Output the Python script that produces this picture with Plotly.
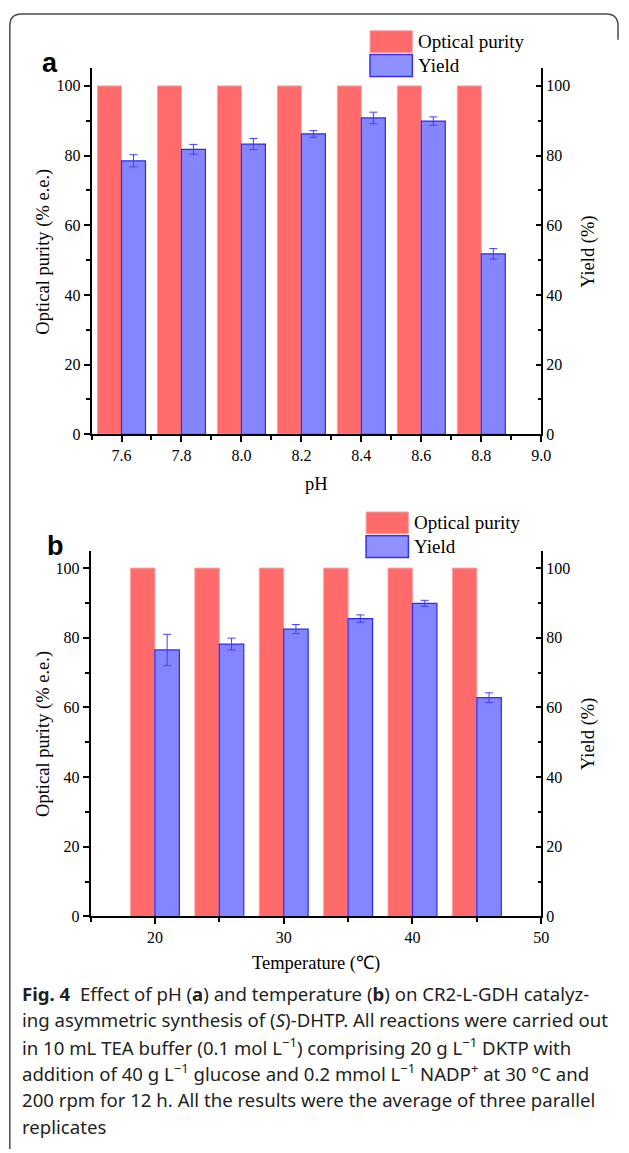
import plotly.graph_objects as go

W, H = 629, 1153

# ---- data ----
ph = [7.6, 7.8, 8.0, 8.2, 8.4, 8.6, 8.8]
ph_purity = [100, 100, 100, 100, 100, 100, 100]
ph_yield = [78.5, 81.8, 83.3, 86.2, 90.8, 89.9, 51.8]
ph_yield_err = [1.75, 1.4, 1.6, 0.95, 1.65, 1.2, 1.5]

temp = [20, 25, 30, 35, 40, 45]
temp_purity = [100, 100, 100, 100, 100, 100]
temp_yield = [76.5, 78.2, 82.5, 85.5, 89.9, 62.8]
temp_yield_err = [4.5, 1.7, 1.3, 1.05, 0.85, 1.4]

series_names = ["Optical purity", "Yield"]
panel_labels = ["a", "b"]
x_titles = ["pH", "Temperature (\u2103)"]
y_left_title = "Optical purity (% e.e.)"
y_right_title = "Yield (%)"

caption_lines = [
    "<b>Fig. 4</b>  Effect of pH (<b>a</b>) and temperature (<b>b</b>) on CR2-L-GDH catalyz-",
    "ing asymmetric synthesis of (<i>S</i>)-DHTP. All reactions were carried out",
    "in 10 mL TEA buffer (0.1 mol L<sup>\u22121</sup>) comprising 20 g L<sup>\u22121</sup> DKTP with",
    "addition of 40 g L<sup>\u22121</sup> glucose and 0.2 mmol L<sup>\u22121</sup> NADP<sup>+</sup> at 30 \u00b0C and",
    "200 rpm for 12 h. All the results were the average of three parallel",
    "replicates",
]

RED = "#FF6B6B"
RED_EDGE = "#FFA0A0"
BLUE = "#8585FF"
BLUE_EDGE = "#2B2BFF"
SERIF = "Liberation Serif"

def px(x):
    return x / W

def py(y):
    return 1 - y / H

fig = go.Figure()

# Panel a bars
fig.add_trace(go.Bar(x=ph, y=ph_purity, width=0.08, offset=-0.08, name=series_names[0],
                     marker=dict(color=RED, line=dict(color=RED_EDGE, width=1)),
                     xaxis="x", yaxis="y", showlegend=False))
fig.add_trace(go.Bar(x=ph, y=ph_yield, width=0.08, offset=0.0, name=series_names[1],
                     marker=dict(color=BLUE, line=dict(color=BLUE_EDGE, width=1.2)),
                     error_y=dict(type="data", array=ph_yield_err, color="#3F3FFF", thickness=1, width=4),
                     xaxis="x", yaxis="y2", showlegend=False))
# Panel b bars
fig.add_trace(go.Bar(x=temp, y=temp_purity, width=1.9, offset=-1.9, name=series_names[0],
                     marker=dict(color=RED, line=dict(color=RED_EDGE, width=1)),
                     xaxis="x2", yaxis="y3", showlegend=False))
fig.add_trace(go.Bar(x=temp, y=temp_yield, width=1.9, offset=0.0, name=series_names[1],
                     marker=dict(color=BLUE, line=dict(color=BLUE_EDGE, width=1.2)),
                     error_y=dict(type="data", array=temp_yield_err, color="#3F3FFF", thickness=1, width=4),
                     xaxis="x2", yaxis="y4", showlegend=False))

tickfont = dict(family=SERIF, size=16, color="black")
titlefont = dict(family=SERIF, size=18.5, color="black")

def xax(domain, rng, dtick, tick0, minor_dtick, fmt, anchor):
    return dict(domain=domain, range=rng, dtick=dtick, tick0=tick0, tickformat=fmt,
                showline=True, linecolor="black", linewidth=1.5, mirror=False,
                ticks="outside", ticklen=6, tickwidth=1.5, tickcolor="black",
                minor=dict(dtick=minor_dtick, tick0=tick0, ticks="outside", ticklen=4,
                           tickwidth=1.5, tickcolor="black"),
                showgrid=False, zeroline=False, tickfont=tickfont, anchor=anchor,
                fixedrange=True)

def yax(domain, anchor, side, ticks, overlaying=None):
    d = dict(domain=domain, range=[0, 105], dtick=20, tick0=0,
             showline=True, linecolor="black", linewidth=1.5,
             ticks=ticks, ticklen=6, tickwidth=1.5, tickcolor="black",
             minor=dict(dtick=10, ticks=ticks, ticklen=4, tickwidth=1.5, tickcolor="black"),
             showgrid=False, zeroline=False, tickfont=tickfont, anchor=anchor, side=side,
             fixedrange=True)
    if overlaying:
        d["overlaying"] = overlaying
    return d

xa_dom = [px(93), px(550)]
xb_dom = [px(92), px(550)]
ya_dom = [py(437.7), py(69)]
yb_dom = [py(923.7), py(555)]

fig.update_layout(
    width=W, height=H,
    margin=dict(l=0, r=0, t=0, b=0),
    paper_bgcolor="white", plot_bgcolor="rgba(0,0,0,0)",
    barmode="overlay",
    showlegend=False,
    xaxis=xax(xa_dom, [7.5, 9.0], 0.2, 7.6, 0.1, ".1f", "y"),
    yaxis=yax(ya_dom, "x", "left", "outside"),
    yaxis2=yax(ya_dom, "x", "right", "inside", overlaying="y"),
    xaxis2=xax(xb_dom, [15, 50], 10, 0, 5, "d", "y3"),
    yaxis3=yax(yb_dom, "x2", "left", "outside"),
    yaxis4=yax(yb_dom, "x2", "right", "inside", overlaying="y3"),
)

ann = []
shapes = []

# frame (rounded top-left and top-right corners)
r = 12
shapes.append(dict(type="path", xref="paper", yref="paper",
                   path=(f"M {px(10)},{py(H+5)} L {px(10)},{py(14+r)} "
                         f"Q {px(10)},{py(14)} {px(10+r)},{py(14)} "
                         f"L {px(628-r)},{py(14)} Q {px(628)},{py(14)} {px(628)},{py(14+r)} "
                         f"L {px(628)},{py(40)}"),
                   line=dict(color="#4a4a4a", width=1.5)))

# axis titles and panel labels
panels = [
    dict(label_xy=(51, 63), legend_y=(31, 55), legend_x=376, xt_y=488, yc=(69 + 437.7) / 2),
    dict(label_xy=(56, 550), legend_y=(516, 540), legend_x=372, xt_y=971, yc=(555 + 923.7) / 2),
]
for i, p in enumerate(panels):
    ann.append(dict(text=f"<b>{panel_labels[i]}</b>", x=px(p["label_xy"][0]), y=py(p["label_xy"][1]),
                    xref="paper", yref="paper", showarrow=False, xanchor="center", yanchor="middle",
                    font=dict(family="Liberation Sans", size=27, color="black")))
    ann.append(dict(text=x_titles[i], x=px(321.5), y=py(p["xt_y"]), xref="paper", yref="paper",
                    showarrow=False, xanchor="center", yanchor="middle", font=titlefont))
    ann.append(dict(text=y_left_title, x=px(44), y=py(p["yc"]), xref="paper", yref="paper",
                    showarrow=False, xanchor="center", yanchor="middle", textangle=-90, font=titlefont))
    ann.append(dict(text=y_right_title, x=px(598), y=py(p["yc"]), xref="paper", yref="paper",
                    showarrow=False, xanchor="center", yanchor="middle", textangle=-90, font=titlefont))
    # legend boxes
    lx = p["legend_x"]
    for j, (fill, edge, lw) in enumerate([(RED, RED_EDGE, 1), ("#9090FF", "#3030FF", 1.5)]):
        y0 = p["legend_y"][j]
        shapes.append(dict(type="rect", xref="paper", yref="paper",
                           x0=px(lx), x1=px(lx + 43), y0=py(y0 + 22), y1=py(y0),
                           fillcolor=fill, line=dict(color=edge, width=lw)))
        ann.append(dict(text=series_names[j], x=px(lx + 47), y=py(y0 + 11), xref="paper", yref="paper",
                        showarrow=False, xanchor="left", yanchor="middle",
                        font=dict(family=SERIF, size=19, color="black")))

# caption
for k, line in enumerate(caption_lines):
    ann.append(dict(text=line, x=px(20), y=py(1001 + k * 26.8), xref="paper", yref="paper",
                    showarrow=False, xanchor="left", yanchor="middle",
                    font=dict(family="Noto Sans", size=18.6, color="#231f20")))

fig.update_layout(annotations=ann, shapes=shapes)
fig.write_html(
    "out.html",
    config={"displayModeBar": False, "responsive": False},
    post_script=("document.documentElement.style.margin='0';"
                 "document.documentElement.style.overflow='hidden';"
                 "document.body.style.margin='0';document.body.style.padding='0';"
                 "document.body.style.overflow='hidden';"),
)
